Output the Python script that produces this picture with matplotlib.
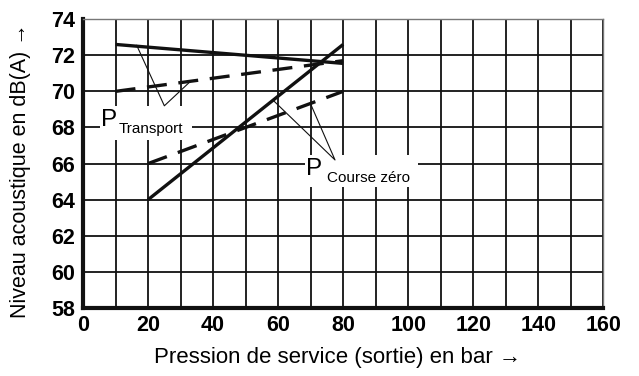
import matplotlib
matplotlib.use("Agg")
import matplotlib.pyplot as plt
from matplotlib.patches import Rectangle
from matplotlib.ticker import MultipleLocator

plt.rcParams['font.family'] = ['Liberation Sans', 'DejaVu Sans']

# Noise level curves (pressure in bar, level in dB(A))
transport_solid_x = [10, 60, 80]
transport_solid_y = [72.6, 71.85, 71.55]
transport_dashed_x = [10, 80]
transport_dashed_y = [70.0, 71.7]
zero_solid_x = [20, 80]
zero_solid_y = [64.0, 72.6]
zero_dashed_x = [20, 80]
zero_dashed_y = [66.0, 70.0]

x_ticks = [0, 20, 40, 60, 80, 100, 120, 140, 160]
y_ticks = [58, 60, 62, 64, 66, 68, 70, 72, 74]

fig = plt.figure(figsize=(6.39, 3.76), dpi=100)
ax = fig.add_axes([0.130, 0.181, 0.814, 0.768])

ax.set_xlim(0, 160)
ax.set_ylim(58, 74)
ax.set_xticks(x_ticks)
ax.set_yticks(y_ticks)
ax.xaxis.set_minor_locator(MultipleLocator(10))
ax.tick_params(which='both', length=0)
ax.tick_params(axis='x', pad=5)
ax.tick_params(axis='y', pad=6)
for lab in ax.get_xticklabels() + ax.get_yticklabels():
    lab.set_fontsize(15.5)
    lab.set_fontweight('bold')

ax.grid(which='both', color='#111111', linewidth=1.3, zorder=0.5)
ax.set_axisbelow(True)

for side in ('left', 'bottom'):
    ax.spines[side].set_linewidth(3.0)
    ax.spines[side].set_color('#111111')
for side in ('top', 'right'):
    ax.spines[side].set_linewidth(1.0)
    ax.spines[side].set_color('#777777')

lw = 2.4
ax.plot(transport_solid_x, transport_solid_y, color='#111111', lw=lw, zorder=3,
        solid_capstyle='butt')
ax.plot(transport_dashed_x, transport_dashed_y, color='#111111', lw=lw, zorder=3,
        dashes=(6, 3.5), dash_capstyle='butt')
ax.plot(zero_solid_x, zero_solid_y, color='#111111', lw=lw, zorder=3,
        solid_capstyle='butt')
ax.plot(zero_dashed_x, zero_dashed_y, color='#111111', lw=lw, zorder=3,
        dashes=(6, 3.5), dash_capstyle='butt')

# Label boxes hiding the grid behind the captions
ax.add_patch(Rectangle((5.2, 67.3), 28.3, 1.9, facecolor='white',
                       edgecolor='none', zorder=1))
ax.add_patch(Rectangle((68.3, 64.7), 34.7, 1.8, facecolor='white',
                       edgecolor='none', zorder=1))

ax.text(5.6, 68.1, 'P', fontsize=17.5, ha='left', va='baseline', zorder=4)
ax.text(11.0, 67.72, 'Transport', fontsize=11, ha='left', va='baseline', zorder=4)
ax.text(68.6, 65.35, 'P', fontsize=17.5, ha='left', va='baseline', zorder=4)
ax.text(75.0, 64.98, 'Course zéro', fontsize=11, ha='left', va='baseline', zorder=4)

# Leader lines from captions to the curves
ax.plot([16.5, 25.0, 33.0], [72.55, 69.2, 70.55], color='#111111', lw=0.8, zorder=4)
ax.plot([58.5, 77.5, 70.0], [69.5, 66.2, 69.3], color='#111111', lw=0.8, zorder=4)

fig.text(0.529, 0.05, 'Pression de service (sortie) en bar \u2192', fontsize=16,
         ha='center', va='center')
fig.text(0.032, 0.545, 'Niveau acoustique en dB(A) \u2192', fontsize=15.5,
         ha='center', va='center', rotation=90)

fig.savefig('out.png', dpi=100)
